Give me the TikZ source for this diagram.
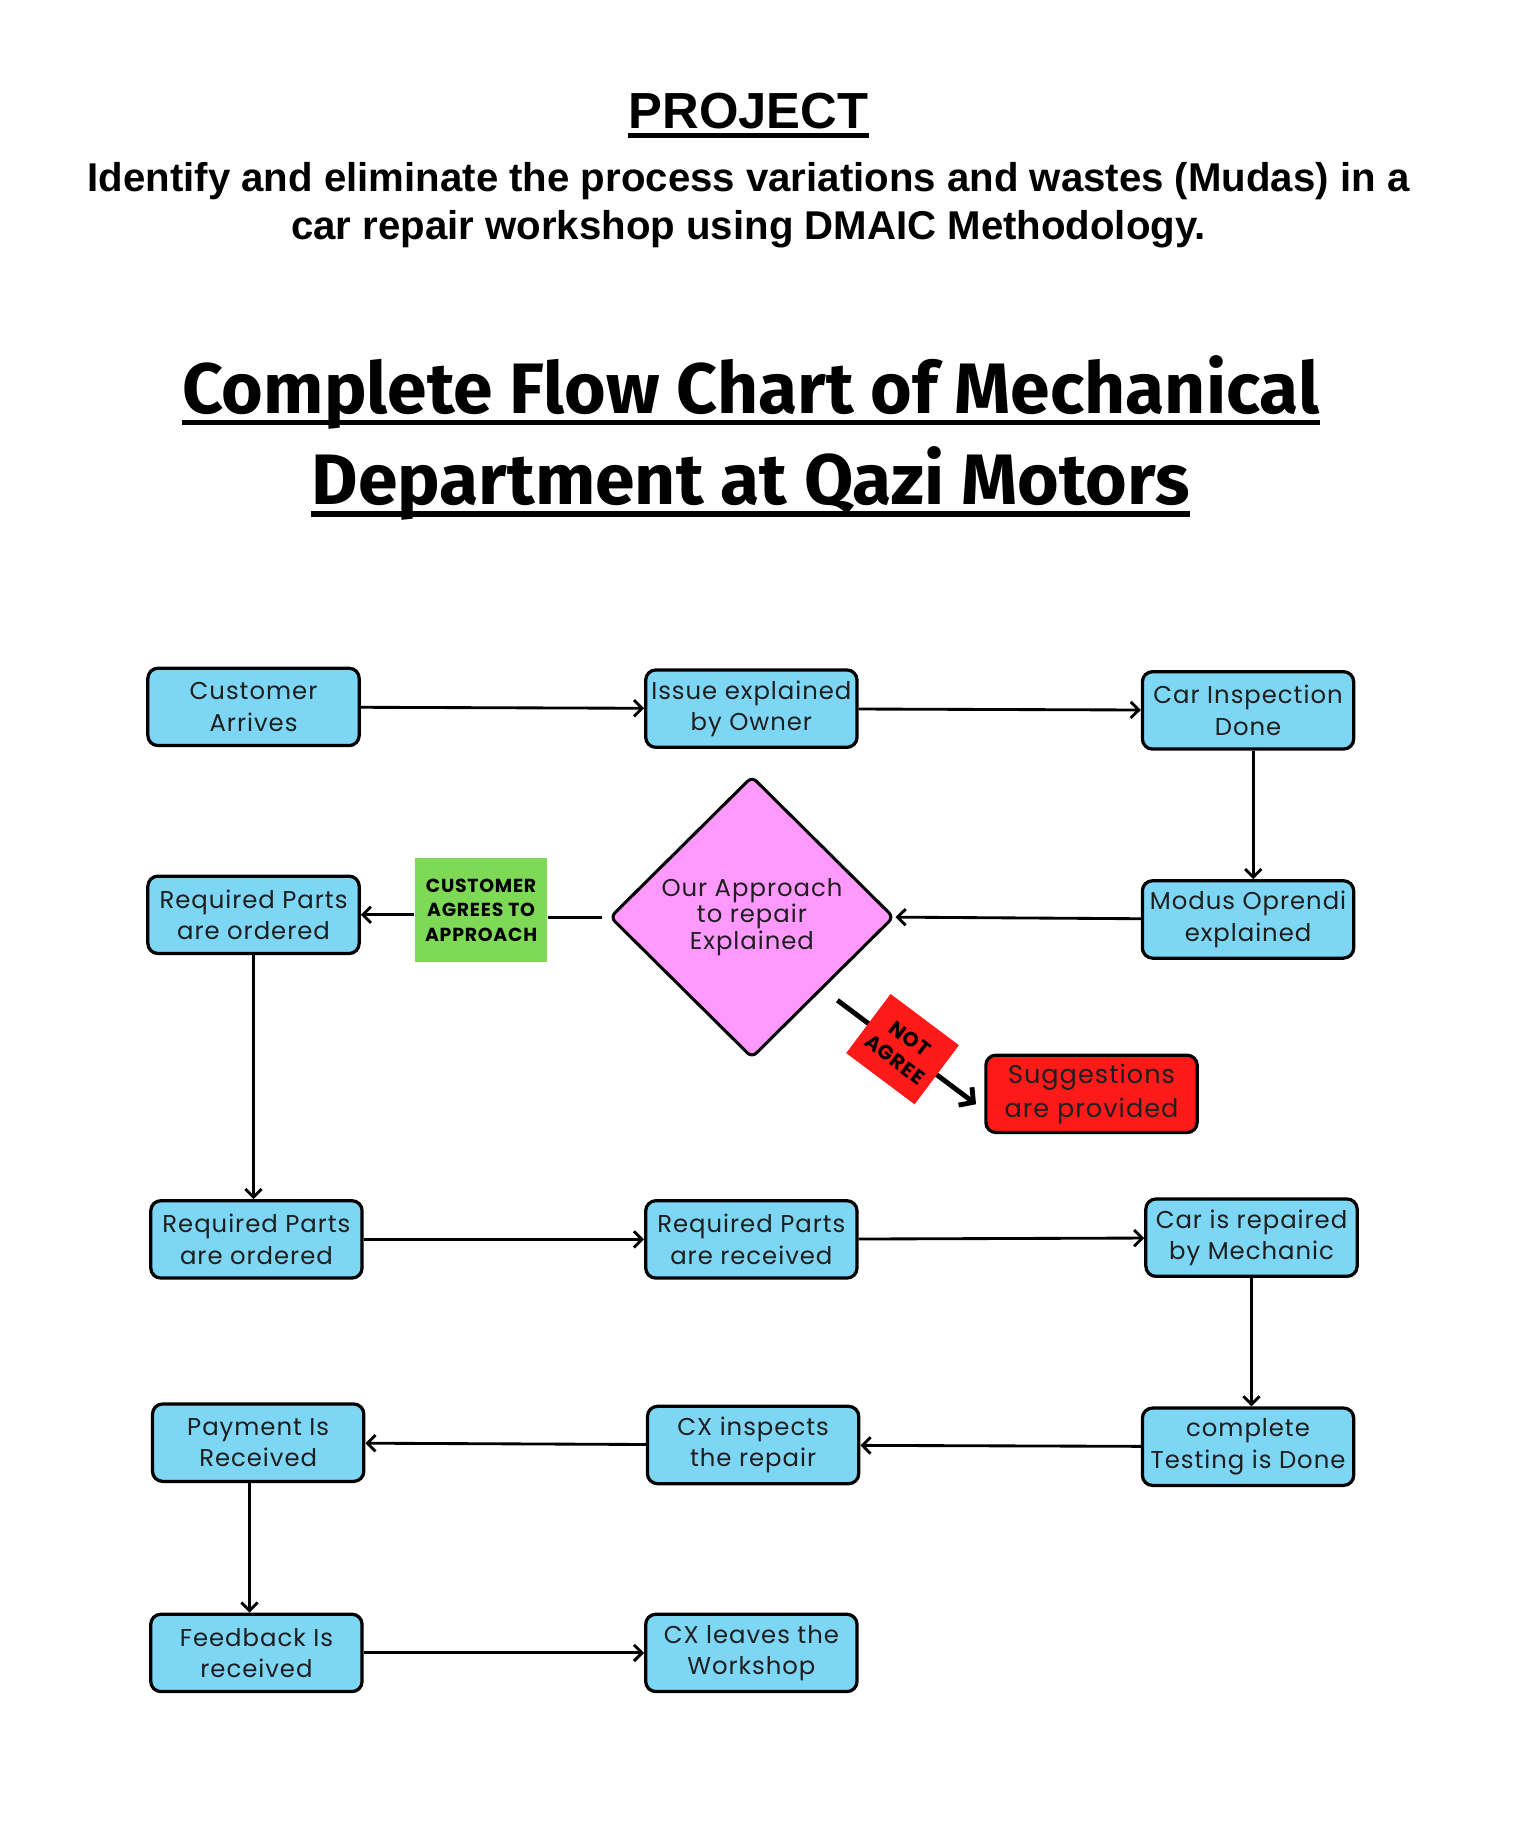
\documentclass[tikz,border=0pt]{standalone}
\usepackage{fontspec}
\setmainfont{Poppins}
\newfontfamily\arialfont{Liberation Sans}
\newfontfamily\headfont{Fira Sans}
\newfontfamily\boxfont[LetterSpace=4]{Poppins}
\newfontfamily\tagfont[LetterSpace=4]{Poppins}
\usetikzlibrary{shapes.geometric}
\usetikzlibrary{arrows.meta}
\usetikzlibrary{positioning}

\definecolor{boxblue}{HTML}{7ED6F5}
\definecolor{approachpink}{HTML}{FF99FF}
\definecolor{agreegreen}{HTML}{7ED957}
\definecolor{notred}{HTML}{FF1A1A}
\definecolor{inkgray}{HTML}{1E1E1E}

\tikzset{
  stepbox/.style={draw=black, line width=1.6pt, rounded corners=5pt, fill=boxblue,
    minimum width=3.66cm, minimum height=1.34cm, inner sep=0pt, align=center,
    text=inkgray, font=\boxfont\fontsize{12}{15.5}\selectfont},
  redbox/.style={stepbox, fill=notred, font=\boxfont\fontsize{12.6}{16.5}\selectfont},
  approach/.style={diamond, draw=black, line width=1.5pt, rounded corners=3pt, fill=approachpink,
    minimum width=4.92cm, minimum height=4.88cm, inner sep=0pt, align=center,
    text=inkgray, font=\boxfont\fontsize{12}{12.2}\selectfont},
  tagbox/.style={inner sep=0pt, align=center, text=black,
    font=\tagfont\bfseries\fontsize{9.3}{12}\selectfont},
  notagree/.style={tagbox, fill=notred, minimum width=1.48cm, minimum height=1.28cm,
    font=\tagfont\bfseries\fontsize{10}{12.5}\selectfont},
  flow/.style={line width=1.4pt, -{Straight Barb[length=4pt,width=8pt]}},
  bigflow/.style={line width=2.4pt, -{Straight Barb[length=5pt,width=11pt]}},
  titleline/.style={anchor=base, inner sep=0pt}
}

\begin{document}
\begin{tikzpicture}[x=0.02cm, y=-0.02cm]
\useasboundingbox (0,0) rectangle (1330,1580);

\node[titleline, font=\arialfont\bfseries\fontsize{25}{30}\selectfont] (proj) at (648,111) {PROJECT};
\draw[line width=2.2pt] ([yshift=-3.6pt]proj.base west) -- ([yshift=-3.6pt]proj.base east);
\node[titleline, font=\arialfont\bfseries\fontsize{19.8}{24}\selectfont] (sub1) at (648,166)
  {Identify and eliminate the process variations and wastes (Mudas) in a};
\node[titleline, font=\arialfont\bfseries\fontsize{19.8}{24}\selectfont] (sub2) at (648,207)
  {car repair workshop using DMAIC Methodology.};

\node[titleline, font=\headfont\bfseries\fontsize{35.2}{40}\selectfont] (head1) at (650,358)
  {Complete Flow Chart of Mechanical};
\draw[line width=2.6pt] ([yshift=-4.6pt]head1.base west) -- ([yshift=-4.6pt]head1.base east);
\node[titleline, font=\headfont\bfseries\fontsize{35.2}{40}\selectfont] (head2) at (650,437)
  {Department at Qazi Motors};
\draw[line width=2.6pt] ([yshift=-4.6pt]head2.base west) -- ([yshift=-4.6pt]head2.base east);

\node[stepbox] (arrive) at (219.5,612) {Customer\\Arrives};
\node[stepbox] (issue) at (650.5,613.5) {Issue explained\\by Owner};
\node[stepbox] (inspect) at (1080.5,615) {Car Inspection\\Done};
\node[stepbox] (order1) at (219.5,792) {Required Parts\\are ordered};
\node[approach] (ourway) at (651,794) {Our Approach\\to repair\\Explained};
\node[stepbox] (modus) at (1080.5,796) {Modus Oprendi\\explained};
\node[minimum width=2.3cm, minimum height=1.8cm, fill=agreegreen, tagbox] (agree) at (416.5,788)
  {CUSTOMER\\AGREES TO\\APPROACH};
\node[redbox] (suggest) at (945,947) {Suggestions\\are provided};

\node[stepbox] (order2) at (222,1073) {Required Parts\\are ordered};
\node[stepbox] (receive) at (650.5,1073) {Required Parts\\are received};
\node[stepbox] (repair) at (1083.5,1071.5) {Car is repaired\\by Mechanic};
\node[stepbox] (payment) at (223.5,1249) {Payment Is\\Received};
\node[stepbox] (cxcheck) at (652,1251) {CX inspects\\the repair};
\node[stepbox] (testing) at (1080.5,1252.5) {complete\\Testing is Done};
\node[stepbox] (feedback) at (222,1431) {Feedback Is\\received};
\node[stepbox] (cxleave) at (650.5,1431) {CX leaves the\\Workshop};

\draw[flow] (arrive) -- (issue);
\draw[flow] (issue) -- (inspect);
\draw[flow] (inspect.south -| 1085,0) -- (modus.north -| 1085,0);
\draw[flow] (modus) -- (ourway.east);
\draw[line width=1.4pt] ([xshift=-3pt]ourway.west) -- (ourway.west -| agree.east);
\draw[flow] (agree.west |- order1.east) -- (order1.east);
\draw[flow] (order1.south) -- (order2.north -| order1.south);
\draw[flow] (order2) -- (receive);
\draw[flow] (receive) -- (repair);
\draw[flow] (repair.south) -- (testing.north -| repair.south);
\draw[flow] (testing) -- (cxcheck);
\draw[flow] (cxcheck) -- (payment);
\draw[flow] (payment.south -| 216,0) -- (feedback.north -| 216,0);
\draw[flow] (feedback) -- (cxleave);

\coordinate (nofrom) at (725,866);
\coordinate (noto) at (845,956);
\draw[bigflow] (nofrom) -- node[pos=0.47, sloped, notagree] {NOT\\AGREE} (noto);
\end{tikzpicture}
\end{document}
